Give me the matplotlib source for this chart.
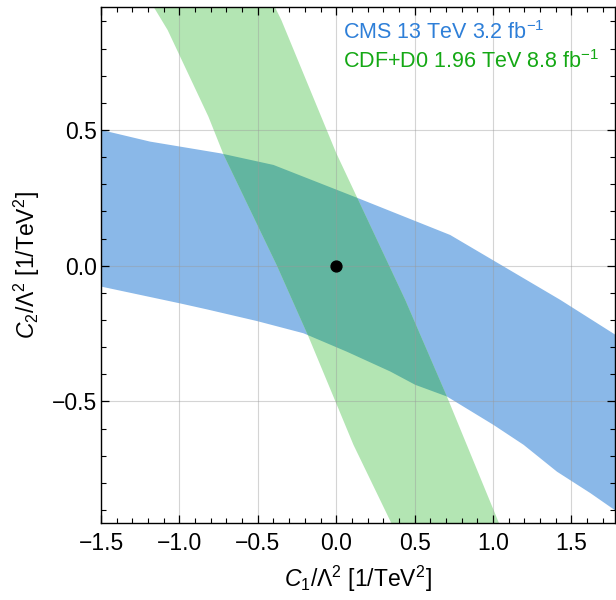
import matplotlib
matplotlib.use("Agg")
import matplotlib.pyplot as plt
import numpy as np
from matplotlib.patches import Polygon
from matplotlib.ticker import MultipleLocator

plt.rcParams['font.family'] = ['Liberation Sans', 'DejaVu Sans']
plt.rcParams['mathtext.fontset'] = 'custom'
plt.rcParams['mathtext.rm'] = 'Liberation Sans'
plt.rcParams['mathtext.it'] = 'Liberation Sans:italic'
plt.rcParams['mathtext.bf'] = 'Liberation Sans:bold'

# ---- data ----
# CMS 13 TeV band: upper and lower boundaries (C1, C2)
cms_upper_c1 = [-1.60, -1.50, -1.187, -0.74, -0.40, 0.142, 0.727, 1.429, 1.85]
cms_upper_c2 = [0.513, 0.500, 0.457, 0.414, 0.371, 0.248, 0.113, -0.126, -0.28]
cms_lower_c1 = [-1.60, -1.50, -0.996, -0.825, -0.506, -0.209, 0.068, 0.345, 0.504,
                0.706, 1.004, 1.195, 1.408, 1.621, 1.85]
cms_lower_c2 = [-0.065, -0.077, -0.139, -0.161, -0.204, -0.249, -0.317, -0.390, -0.439,
                -0.482, -0.587, -0.660, -0.759, -0.838, -0.93]

# CDF+D0 band: left and right boundaries, top to bottom (C1, C2)
tev_left_c1 = [-1.21, -1.165, -1.075, -0.815, -0.719, -0.378, -0.177, 0.110, 0.362, 0.40]
tev_left_c2 = [1.00, 0.954, 0.868, 0.549, 0.410, 0.0, -0.261, -0.660, -0.961, -1.00]
tev_right_c1 = [-0.43, -0.392, -0.350, 0.0, 0.44, 0.706, 1.047, 1.075]
tev_right_c2 = [1.00, 0.954, 0.905, 0.415, -0.126, -0.482, -0.961, -1.00]

best_fit = (0.0, 0.0)

labels = ["CMS 13 TeV 3.2 fb$^{-1}$", "CDF+D0 1.96 TeV 8.8 fb$^{-1}$"]
label_colors = ["#2E7FD8", "#14A814"]

xticks = [-1.5, -1.0, -0.5, 0.0, 0.5, 1.0, 1.5]
yticks = [-0.5, 0.0, 0.5]

blue = "#8AB8E8"
green = "#B3E5B3"
overlap = "#62B5A0"

fig = plt.figure(figsize=(6.16, 6.00), dpi=100)
ax = fig.add_axes([101/616, 1 - 522.7/600, (615.3 - 101)/616, (522.7 - 6.7)/600])

cms_poly = np.column_stack([cms_upper_c1 + cms_lower_c1[::-1],
                            cms_upper_c2 + cms_lower_c2[::-1]])
tev_poly = np.column_stack([tev_left_c1 + tev_right_c1[::-1],
                            tev_left_c2 + tev_right_c2[::-1]])

p_cms = Polygon(cms_poly, closed=True, facecolor=blue, edgecolor='none', zorder=1)
ax.add_patch(p_cms)
p_tev = Polygon(tev_poly, closed=True, facecolor=green, edgecolor='none', zorder=1.1)
ax.add_patch(p_tev)
p_ov = Polygon(tev_poly, closed=True, facecolor=overlap, edgecolor='none', zorder=1.2)
ax.add_patch(p_ov)
clip = Polygon(cms_poly, closed=True, transform=ax.transData)
p_ov.set_clip_path(clip)

ax.plot([best_fit[0]], [best_fit[1]], 'o', color='black', markersize=7.8, zorder=5)

ax.set_xlim(-1.5, 1.78)
ax.set_ylim(-0.947, 0.954)
ax.set_xticks(xticks)
ax.set_yticks(yticks)
ax.set_xticklabels([f"{t:.1f}".replace("-", "\u2212") for t in xticks])
ax.set_yticklabels([f"{t:.1f}".replace("-", "\u2212") for t in yticks])
ax.xaxis.set_minor_locator(MultipleLocator(0.1))
ax.yaxis.set_minor_locator(MultipleLocator(0.1))
ax.tick_params(which='both', direction='in', top=True, right=True, colors='black',
               labelsize=16.5)
ax.tick_params(which='major', length=6, width=0.9)
ax.tick_params(which='minor', length=3.5, width=0.8)
ax.tick_params(axis='x', pad=7)
ax.tick_params(axis='y', pad=3)

ax.grid(True, which='major', color='#9A9A9A', alpha=0.42, linewidth=0.8, zorder=3)
ax.set_axisbelow(False)
for s in ax.spines.values():
    s.set_linewidth(1.0)
    s.set_zorder(6)

ax.set_xlabel("$C_1/\\Lambda^2$ [1/TeV$^2$]", fontsize=16.5, labelpad=6)
ax.set_ylabel("$C_2/\\Lambda^2$ [1/TeV$^2$]", fontsize=16.5)
ax.yaxis.set_label_coords(-0.115, 0.5)

ax.text(0.471, 0.937, labels[0], transform=ax.transAxes, color=label_colors[0],
        fontsize=15.5, ha='left', va='baseline', zorder=7)
ax.text(0.471, 0.881, labels[1], transform=ax.transAxes, color=label_colors[1],
        fontsize=15.5, ha='left', va='baseline', zorder=7)

fig.savefig("out.png", dpi=100)
